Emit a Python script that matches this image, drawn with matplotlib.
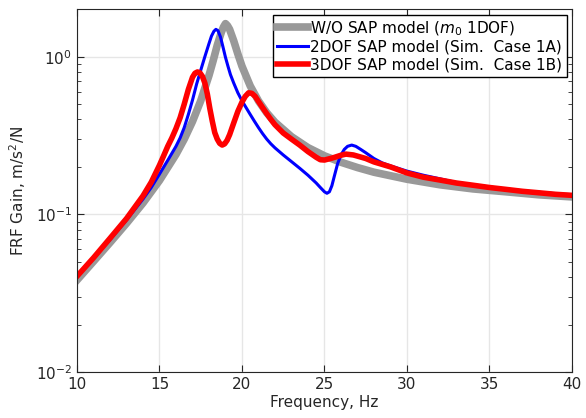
import numpy as np
import matplotlib
matplotlib.use("Agg")
import matplotlib.pyplot as plt
from matplotlib.ticker import LogLocator, NullFormatter

# W/O SAP model (m0 1DOF)
freq_1dof = [10, 11, 12, 13, 14, 15, 16, 16.5, 17, 17.5, 18, 18.25, 18.5,
             18.75, 18.875, 19, 19.125, 19.25, 19.5, 19.75, 20, 20.5, 21,
             21.5, 22, 23, 24, 25, 26, 27, 28, 30, 32, 34, 36, 38, 40]
gain_1dof = [0.0383, 0.0503, 0.0662, 0.0877, 0.118, 0.164, 0.240, 0.300,
             0.388, 0.525, 0.76, 0.94, 1.18, 1.43, 1.54, 1.62, 1.57, 1.49,
             1.26, 1.04, 0.870, 0.652, 0.524, 0.441, 0.384, 0.311, 0.265,
             0.235, 0.214, 0.198, 0.185, 0.167, 0.154, 0.145, 0.139, 0.133,
             0.129]

# 2DOF SAP model (Sim. Case 1A)
freq_2dof = [10, 11, 12, 13, 14, 14.5, 15, 15.5, 16, 16.25, 16.5, 16.75, 17,
             17.25, 17.5, 17.75, 18, 18.15, 18.3, 18.42, 18.55, 18.7, 18.85,
             19, 19.15, 19.3, 19.5, 19.75, 20, 20.25, 20.5, 20.75, 21, 21.25,
             21.5, 21.75, 22, 22.5, 23, 23.5, 24, 24.5, 24.75, 25, 25.15,
             25.3, 25.45, 25.6, 25.8, 26, 26.2, 26.4, 26.65, 26.9, 27.2, 27.5,
             28, 28.5, 29, 30, 31, 32, 33, 34, 35, 36, 37, 38, 39, 40]
gain_2dof = [0.040, 0.0525, 0.069, 0.092, 0.125, 0.148, 0.180, 0.22, 0.27,
             0.305, 0.355, 0.43, 0.53, 0.67, 0.82, 1.0, 1.21, 1.35, 1.45,
             1.49, 1.46, 1.33, 1.15, 0.99, 0.87, 0.77, 0.68, 0.59, 0.525,
             0.475, 0.43, 0.39, 0.355, 0.325, 0.30, 0.28, 0.264, 0.238, 0.216,
             0.196, 0.177, 0.158, 0.148, 0.139, 0.136, 0.139, 0.152, 0.175,
             0.21, 0.238, 0.258, 0.27, 0.275, 0.27, 0.258, 0.246, 0.226,
             0.212, 0.203, 0.188, 0.177, 0.168, 0.159, 0.154, 0.149, 0.145,
             0.141, 0.138, 0.135, 0.132]

# 3DOF SAP model (Sim. Case 1B)
freq_3dof = [10, 11, 12, 13, 14, 14.5, 15, 15.25, 15.5, 15.75, 16, 16.25,
             16.5, 16.75, 17, 17.15, 17.3, 17.45, 17.6, 17.75, 17.9, 18.05,
             18.2, 18.35, 18.5, 18.65, 18.8, 18.95, 19.1, 19.25, 19.5, 19.75,
             20, 20.2, 20.4, 20.6, 20.8, 21, 21.25, 21.5, 21.75, 22, 22.5, 23,
             23.5, 24, 24.5, 24.75, 25, 25.5, 26, 26.3, 26.75, 27, 27.5, 28,
             29, 30, 31, 32, 33, 34, 35, 36, 37, 38, 39, 40]
gain_3dof = [0.0405, 0.053, 0.0705, 0.094, 0.131, 0.16, 0.205, 0.235, 0.27,
             0.305, 0.35, 0.41, 0.50, 0.62, 0.74, 0.785, 0.80, 0.79, 0.75,
             0.68, 0.58, 0.47, 0.39, 0.33, 0.30, 0.282, 0.275, 0.28, 0.295,
             0.32, 0.38, 0.45, 0.515, 0.56, 0.59, 0.585, 0.56, 0.52, 0.475,
             0.435, 0.40, 0.37, 0.328, 0.30, 0.275, 0.25, 0.23, 0.222,
             0.221, 0.228, 0.237, 0.241, 0.238, 0.234, 0.226, 0.215, 0.20,
             0.183, 0.172, 0.165, 0.158, 0.153, 0.148, 0.144, 0.140, 0.137,
             0.134, 0.132]

labels = ["W/O SAP model ($m_0$ 1DOF)",
          "2DOF SAP model (Sim.  Case 1A)",
          "3DOF SAP model (Sim.  Case 1B)"]

fig = plt.figure(figsize=(5.86, 4.18), dpi=100)
ax = fig.add_axes([0.1314, 0.110, 0.8446, 0.868])

ax.semilogy(freq_1dof, gain_1dof, color="#999999", lw=5.5, label=labels[0],
            solid_joinstyle="round")
ax.semilogy(freq_2dof, gain_2dof, color="#0000ff", lw=2.2, label=labels[1],
            solid_joinstyle="round")
ax.semilogy(freq_3dof, gain_3dof, color="#ff0000", lw=4.0, label=labels[2],
            solid_joinstyle="round")

ax.set_xlim(10, 40)
ax.set_ylim(0.01, 2)
ax.set_xticks([10, 15, 20, 25, 30, 35, 40])
ax.yaxis.set_major_locator(LogLocator(base=10, numticks=5))
ax.yaxis.set_minor_locator(LogLocator(base=10, subs=np.arange(2, 10),
                                      numticks=20))
ax.yaxis.set_minor_formatter(NullFormatter())
ax.grid(True, which="major", color="#e6e6e6", lw=1)
ax.set_axisbelow(True)
ax.tick_params(which="both", direction="in", top=True, right=True,
               labelsize=11, colors="#262626")
ax.tick_params(which="major", length=5)
ax.tick_params(which="minor", length=3)
for sp in ax.spines.values():
    sp.set_color("#262626")

ax.set_xlabel("Frequency, Hz", fontsize=11, color="#262626", labelpad=2)
ax.set_ylabel("FRF Gain, m/s$^2$/N", fontsize=11, color="#262626", labelpad=6)

leg = ax.legend(loc="upper right", fontsize=11, handlelength=2.0,
                handletextpad=0.15, borderpad=0.3, labelspacing=0.15,
                fancybox=False, framealpha=1, borderaxespad=0.35)
leg.get_frame().set_edgecolor("black")
leg.get_frame().set_linewidth(1)

plt.savefig("out.png", dpi=100)
plt.close()
